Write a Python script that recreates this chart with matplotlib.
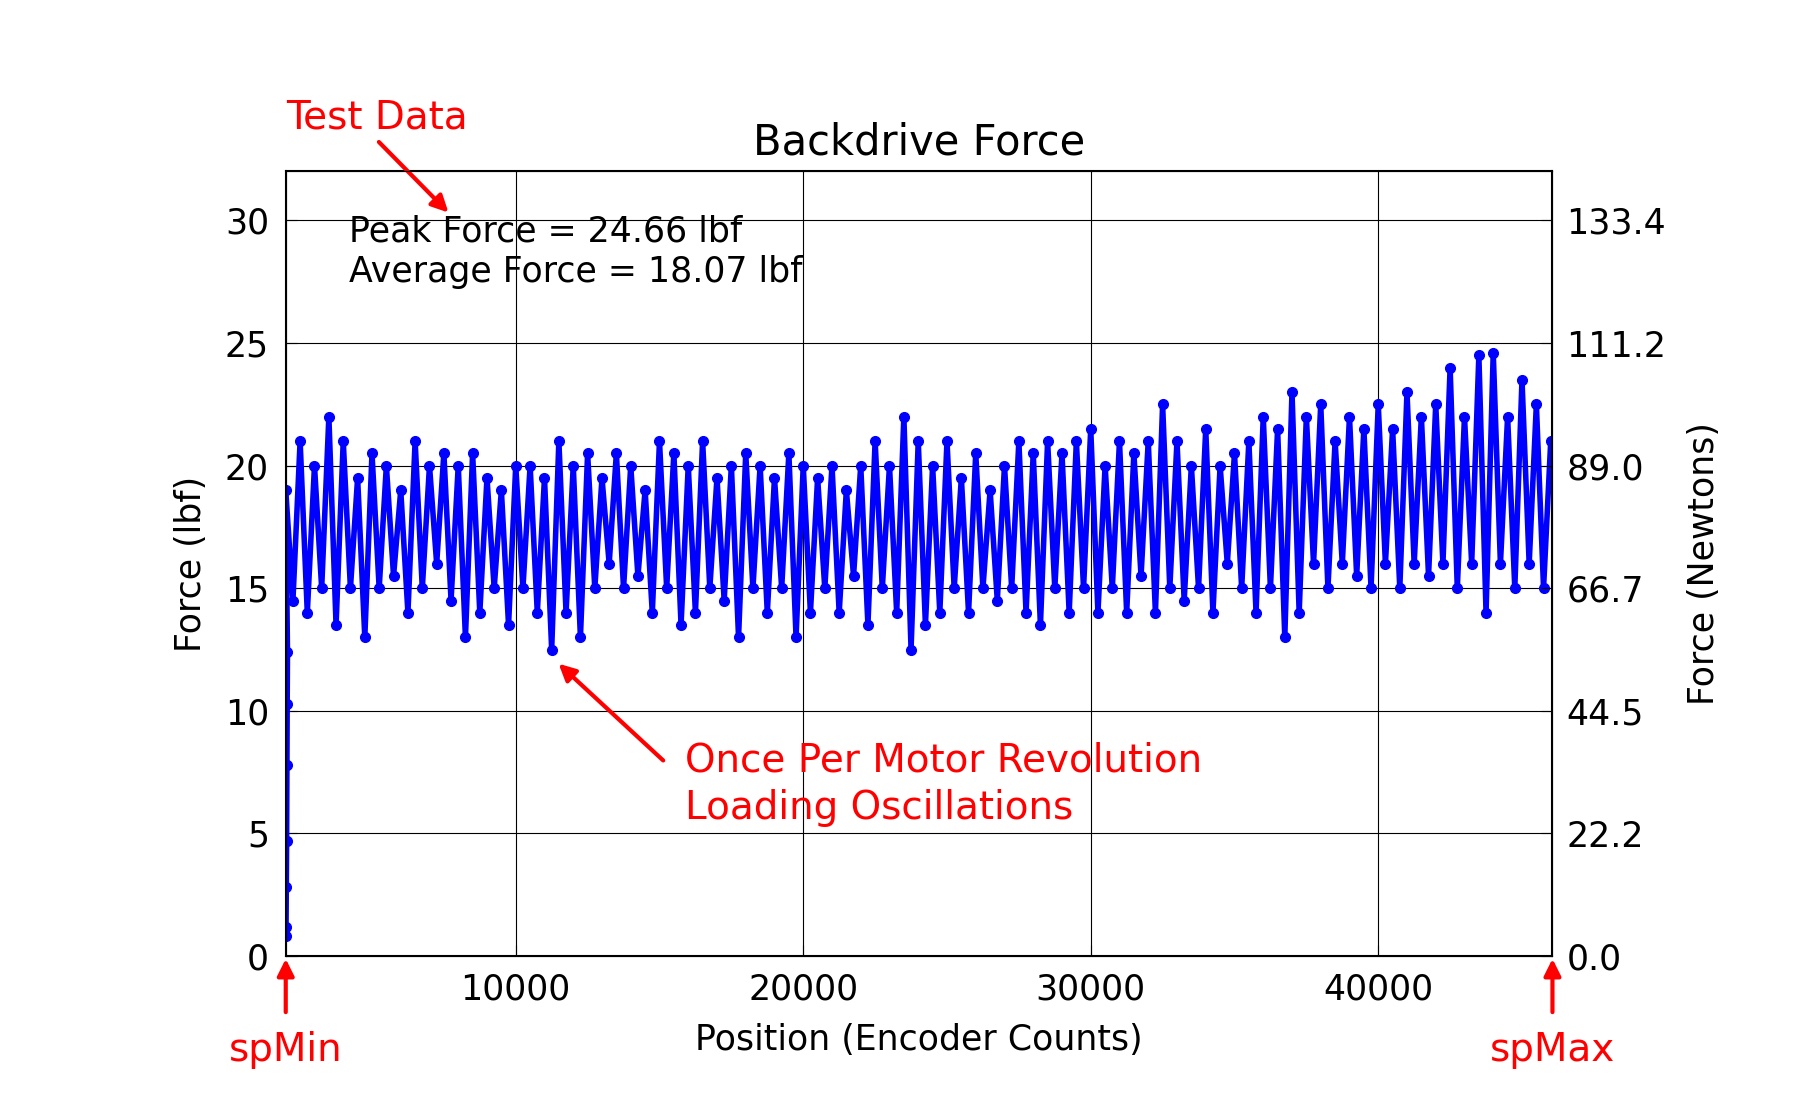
import numpy as np
import matplotlib.pyplot as plt

# start-up ramp
ramp_x = [2000, 2010, 2020, 2030, 2040, 2050, 2060]
ramp_y = [0.8, 1.2, 2.8, 4.7, 7.8, 10.3, 12.4]

# oscillating force, one sample per 250 counts from 2000 to 46000
force = [19, 14.5, 21, 14, 20, 15, 22, 13.5, 21, 15, 19.5, 13, 20.5, 15, 20, 15.5, 19, 14, 21, 15, 20, 16, 20.5, 14.5, 20, 13, 20.5, 14, 19.5, 15, 19, 13.5, 20,
         15, 20, 14, 19.5, 12.5, 21, 14, 20, 13, 20.5, 15, 19.5, 16, 20.5, 15, 20, 15.5, 19, 14, 21, 15, 20.5, 13.5, 20, 14, 21, 15, 19.5, 14.5, 20, 13, 20.5, 15, 20, 14, 19.5, 15, 20.5, 13, 20,
         14, 19.5, 15, 20, 14, 19, 15.5, 20, 13.5, 21, 15, 20, 14, 22, 12.5, 21, 13.5, 20, 14, 21, 15, 19.5, 14, 20.5, 15, 19, 14.5, 20, 15, 21, 14, 20.5, 13.5, 21, 15, 20.5, 14, 21, 15, 21.5,
         14, 20, 15, 21, 14, 20.5, 15.5, 21, 14, 22.5, 15, 21, 14.5, 20, 15, 21.5, 14, 20, 16, 20.5, 15, 21, 14, 22, 15, 21.5, 13, 23, 14, 22, 16, 22.5, 15, 21, 16, 22, 15.5, 21.5, 15, 22.5,
         16, 21.5, 15, 23, 16, 22, 15.5, 22.5, 16, 24, 15, 22, 16, 24.5, 14, 24.6, 16, 22, 15, 23.5, 16, 22.5, 15, 21]
pos = np.arange(2000, 46001, 250)[:len(force)]

x = np.concatenate([ramp_x, pos])
y = np.concatenate([ramp_y, force])

LBF_TO_N = 4.448
fig = plt.figure(figsize=(18.2, 11.13), dpi=100)
ax = fig.add_axes([0.157, 0.141, 0.696, 0.705])
ax.plot(x, y, '-', color='blue', lw=4)
ax.plot(x, y, 'o', color='blue', ms=7)
ax.set_xlim(2000, 46060)
ax.set_ylim(0, 32)
ax.set_xticks([10000, 20000, 30000, 40000])
ax.set_yticks(range(0, 31, 5))
ax.grid(True, color='black', lw=0.8)
ax.tick_params(labelsize=25, direction='in', length=8, pad=12)
ax.set_xlabel('Position (Encoder Counts)', fontsize=25, labelpad=12)
ax.set_ylabel('Force (lbf)', fontsize=25, labelpad=12)
ax.set_title('Backdrive Force', fontsize=30, pad=12)
for s in ax.spines.values():
    s.set_linewidth(1.5)

ax2 = ax.twinx()
ax2.set_ylim(0, 32 * LBF_TO_N)
ax2.set_yticks([v * LBF_TO_N for v in range(0, 31, 5)])
ax2.set_yticklabels(['%.1f' % (v * LBF_TO_N) for v in range(0, 31, 5)])
ax2.tick_params(labelsize=25, direction='in', length=8, pad=10)
ax2.set_ylabel('Force (Newtons)', fontsize=25, labelpad=15)

ax.text(0.05, 0.945, 'Peak Force = 24.66 lbf\nAverage Force = 18.07 lbf',
        transform=ax.transAxes, fontsize=25, va='top', linespacing=1.25)

red = dict(color='red', fontsize=28)
arr = dict(arrowstyle='-|>', color='red', lw=3, mutation_scale=25)
ax.annotate('', xy=(0.13, 0.945), xycoords='axes fraction',
            xytext=(0.072, 1.04), textcoords='axes fraction', arrowprops=arr)
ax.text(0.0, 1.055, 'Test Data', transform=ax.transAxes, **red)
ax.annotate('', xy=(11420, 12.0), xytext=(15200, 7.9), arrowprops=arr)
ax.text(15900, 7.0, 'Once Per Motor Revolution\nLoading Oscillations',
        va='center', linespacing=1.3, **red)
for xv, lab in [(2000, 'spMin'), (46060, 'spMax')]:
    ax.annotate('', xy=(xv, 0), xycoords=('data', 'axes fraction'),
                xytext=(xv, -0.075), textcoords=('data', 'axes fraction'), arrowprops=arr,
                annotation_clip=False)
    ax.text(xv, -0.095, lab, transform=ax.get_xaxis_transform(), ha='center', va='top', **red)

fig.savefig('out.png')
